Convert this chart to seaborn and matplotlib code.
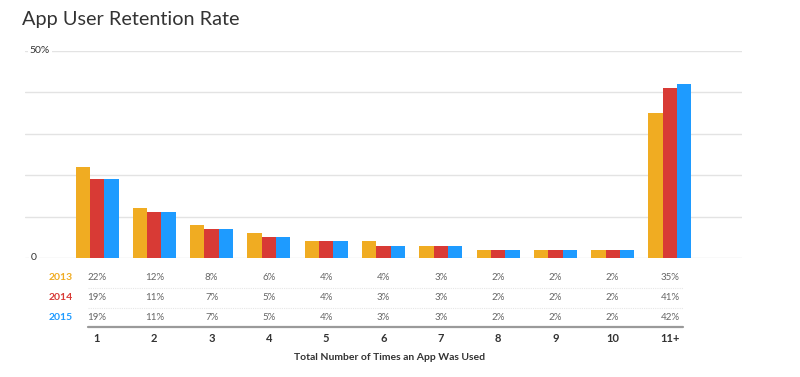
import pandas as pd
import matplotlib.pyplot as plt
import matplotlib.transforms as mtransforms
import seaborn as sns

categories = ['1', '2', '3', '4', '5', '6', '7', '8', '9', '10', '11+']
years = ['2013', '2014', '2015']
rate_2013 = [22, 12, 8, 6, 4, 4, 3, 2, 2, 2, 35]
rate_2014 = [19, 11, 7, 5, 4, 3, 3, 2, 2, 2, 41]
rate_2015 = [19, 11, 7, 5, 4, 3, 3, 2, 2, 2, 42]
colors = {'2013': '#F0AC22', '2014': '#D83A35', '2015': '#1E9BFF'}

series = {'2013': rate_2013, '2014': rate_2014, '2015': rate_2015}
df = pd.DataFrame([
    {'Uses': c, 'Year': y, 'Rate': v}
    for y in years for c, v in zip(categories, series[y])
])

sns.set_theme(style="white")
plt.rcParams['font.family'] = ['Lato', 'DejaVu Sans']

W, H = 800, 377
fig = plt.figure(figsize=(W / 100, H / 100), dpi=100)
ax = fig.add_axes([25 / W, (H - 258) / H, (742 - 25) / W, (258 - 51) / H])

sns.barplot(data=df, x='Uses', y='Rate', hue='Year', order=categories,
            hue_order=years, palette=colors, width=0.75, legend=False,
            saturation=1, linewidth=0, ax=ax, zorder=3)

ax.set_xlim(-1.257, 11.257)
ax.set_ylim(0, 50)
for v in range(0, 51, 10):
    ax.axhline(v, color='#e3e3e3', lw=1, zorder=1)
for s in ax.spines.values():
    s.set_visible(False)
ax.set_xticks([])
ax.set_yticks([])
ax.set_xlabel('')
ax.set_ylabel('')

# y labels sitting on the gridlines
ylab = mtransforms.blended_transform_factory(fig.transFigure, ax.transData)
ax.text(40 / W, 50, '50%', transform=ylab, ha='center', va='center',
        fontsize=7.5, color='#333333', zorder=4,
        bbox=dict(facecolor='white', edgecolor='none', pad=1.5))
ax.text(34 / W, 0, '0', transform=ylab, ha='center', va='center',
        fontsize=7.5, color='#333333', zorder=4,
        bbox=dict(facecolor='white', edgecolor='none', pad=1.5))

# data table below the chart
tr = mtransforms.blended_transform_factory(ax.transData, fig.transFigure)
row_y = [278, 298, 318]
for y, py in zip(years, row_y):
    fy = 1 - py / H
    fig.text(73 / W, fy, y, ha='right', va='center', fontsize=7.5,
             fontweight='bold', color=colors[y])
    for i, v in enumerate(series[y]):
        ax.text(i, fy, f'{v}%', transform=tr, ha='center', va='center',
                fontsize=7, color='#666666', clip_on=False)

for py in [288, 308]:
    ax.plot([-0.16, 10.23], [1 - py / H] * 2, transform=tr, color='#e6e6e6',
            lw=0.8, ls=(0, (1, 1)), clip_on=False)
ax.plot([-0.16, 10.23], [1 - 327 / H] * 2, transform=tr, color='#9a9a9a',
        lw=1.6, clip_on=False)

for i, c in enumerate(categories):
    ax.text(i, 1 - 338 / H, c, transform=tr, ha='center', va='center',
            fontsize=8, fontweight='bold', color='#333333', clip_on=False)

fig.text(390 / W, 1 - 357 / H, 'Total Number of Times an App Was Used',
         ha='center', va='center', fontsize=7.5, fontweight='bold',
         color='#333333')

fig.text(22 / W, 1 - 19 / H, 'App User Retention Rate', ha='left',
         va='center', fontsize=14.3, color='#333333')

fig.savefig('out.png', dpi=100)
